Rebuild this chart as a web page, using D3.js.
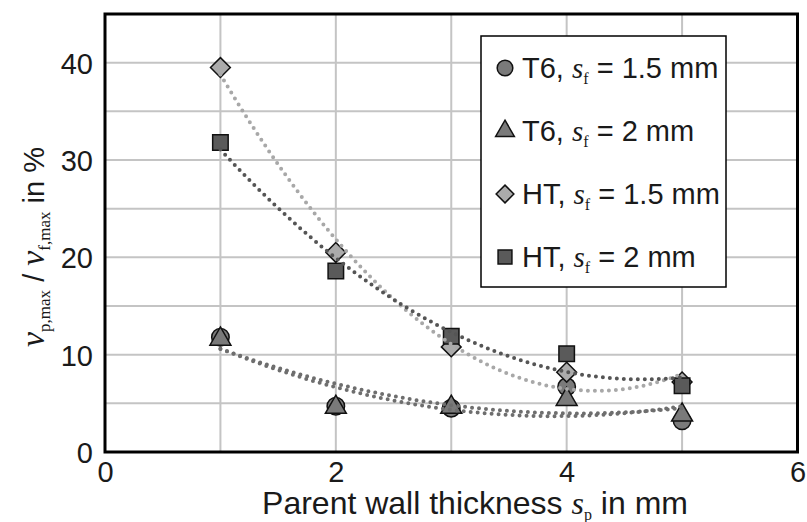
<!DOCTYPE html>
<html>
<head>
<meta charset="utf-8">
<script src="https://cdn.jsdelivr.net/npm/d3@7"></script>
<style>
  body { margin: 0; background: #fff; }
  text { font-family: "Liberation Sans", Arial, sans-serif; fill: #1a1a1a; }
  .serif { font-family: "Liberation Serif", "Times New Roman", serif; }
</style>
</head>
<body>
<svg id="root" width="807" height="522"></svg>
<script>
// data
const thickness = [1, 2, 3, 4, 5];
const t6_15 = [11.8, 4.7, 4.5, 6.7, 3.2];
const t6_2 = [11.6, 4.6, 4.6, 5.4, 3.8];
const ht_15 = [39.5, 20.5, 10.8, 8.2, 7.2];
const ht_2 = [31.8, 18.6, 11.9, 10.1, 6.8];
const xTicks = [0, 2, 4, 6];
const yTicks = [0, 10, 20, 30, 40];

const margin = { top: 14, right: 10, bottom: 70, left: 105 };
const width = 797.5 - margin.left;
const height = 452 - margin.top;

const x = d3.scaleLinear().domain([0, 6]).range([0, width]);
const y = d3.scaleLinear().domain([0, 45]).range([height, 0]);

const svg = d3.select('#root');
const g = svg.append('g').attr('transform', `translate(${margin.left},${margin.top})`);

// grid
g.append('g').selectAll('line').data(d3.range(1, 6)).enter().append('line')
    .attr('x1', d => x(d)).attr('x2', d => x(d))
    .attr('y1', 0).attr('y2', height)
    .attr('stroke', '#c4c4c4').attr('stroke-width', 2);
g.append('g').selectAll('line').data(d3.range(5, 45, 5)).enter().append('line')
    .attr('y1', d => y(d)).attr('y2', d => y(d))
    .attr('x1', 0).attr('x2', width)
    .attr('stroke', '#c4c4c4').attr('stroke-width', 2);

// axes (labels only, frame drawn separately)
const axisX = d3.axisBottom(x).tickValues(xTicks).tickFormat(d3.format('d')).tickSize(0).tickPadding(9);
const axisY = d3.axisLeft(y).tickValues(yTicks).tickFormat(d3.format('d')).tickSize(0).tickPadding(12);
g.append('g').attr('transform', `translate(0,${height})`).call(axisX)
    .call(a => a.select('.domain').remove())
    .selectAll('text').style('font-size', '29px').style('font-family', '"Liberation Sans", Arial, sans-serif').attr('fill', '#1a1a1a');
g.append('g').call(axisY)
    .call(a => a.select('.domain').remove())
    .selectAll('text').style('font-size', '29px').style('font-family', '"Liberation Sans", Arial, sans-serif').attr('fill', '#1a1a1a')
    .attr('dy', '0.36em');

// marker symbols
const series = [
    { name: 'T6', sf: '1.5', values: t6_15, shape: d3.symbolCircle, size: 240, fill: '#7a7a7a', line: '#6e6e6e' },
    { name: 'T6', sf: '2', values: t6_2, shape: d3.symbolTriangle, size: 190, fill: '#7a7a7a', line: '#6e6e6e' },
    { name: 'HT', sf: '1.5', values: ht_15, shape: d3.symbolDiamond2, size: 250, fill: '#ababab', line: '#a8a8a8' },
    { name: 'HT', sf: '2', values: ht_2, shape: d3.symbolSquare, size: 240, fill: '#5a5a5a', line: '#555' }
];

// quadratic least-squares trend, like the spreadsheet trendlines
function quadFit(xs, ys) {
    const n = xs.length;
    let s = [0, 0, 0, 0, 0], t = [0, 0, 0];
    for (let i = 0; i < n; i++) {
        for (let k = 0; k < 5; k++) s[k] += Math.pow(xs[i], k);
        for (let k = 0; k < 3; k++) t[k] += ys[i] * Math.pow(xs[i], k);
    }
    const A = [[s[0], s[1], s[2], t[0]], [s[1], s[2], s[3], t[1]], [s[2], s[3], s[4], t[2]]];
    for (let i = 0; i < 3; i++) {
        for (let j = i + 1; j < 3; j++) {
            const f = A[j][i] / A[i][i];
            for (let k = i; k < 4; k++) A[j][k] -= f * A[i][k];
        }
    }
    const c = [0, 0, 0];
    for (let i = 2; i >= 0; i--) {
        let v = A[i][3];
        for (let k = i + 1; k < 3; k++) v -= A[i][k] * c[k];
        c[i] = v / A[i][i];
    }
    return xv => c[0] + c[1] * xv + c[2] * xv * xv;
}

series.forEach(s => {
    g.append('g').selectAll('path').data(s.values).enter().append('path')
        .attr('d', d3.symbol().type(s.shape).size(s.size))
        .attr('transform', (d, i) => `translate(${x(thickness[i])},${y(d)})`)
        .attr('fill', s.fill).attr('stroke', '#111').attr('stroke-width', 1.5);
});

const line = d3.line().x(d => x(d[0])).y(d => y(d[1])).curve(d3.curveBasis);
series.forEach(s => {
    const f = quadFit(thickness, s.values);
    const pts = d3.range(1, 5.001, 0.05).map(v => [v, f(v)]);
    g.append('path').datum(pts).attr('d', line)
        .attr('fill', 'none').attr('stroke', s.line).attr('stroke-width', 4)
        .attr('stroke-linecap', 'round').attr('stroke-dasharray', '0,7');
});

// frame
g.append('rect').attr('x', 0).attr('y', 0).attr('width', width).attr('height', height)
    .attr('fill', 'none').attr('stroke', '#000').attr('stroke-width', 3);

// legend
const lg = svg.append('g').attr('transform', 'translate(481,36)');
lg.append('rect').attr('width', 245).attr('height', 251)
    .attr('fill', '#fff').attr('stroke', '#000').attr('stroke-width', 1.5);
series.forEach((s, i) => {
    const row = lg.append('g').attr('transform', `translate(24,${32 + i * 63})`);
    row.append('path').attr('d', d3.symbol().type(s.shape).size(s.size * 0.8))
        .attr('fill', s.fill).attr('stroke', '#111').attr('stroke-width', 1.5);
    const t = row.append('text').attr('x', 17).attr('dy', '0.36em').style('font-size', '29px');
    t.append('tspan').text(s.name + ', ');
    t.append('tspan').attr('class', 'serif').style('font-style', 'italic').text('s');
    t.append('tspan').attr('class', 'serif').style('font-size', '16px').attr('dy', 6).text('f');
    t.append('tspan').attr('dy', -6).text(' = ' + s.sf + ' mm');
});

// axis titles
const xt = svg.append('text').attr('x', 475).attr('y', 514).attr('text-anchor', 'middle').style('font-size', '32px');
xt.append('tspan').text('Parent wall thickness ');
xt.append('tspan').attr('class', 'serif').style('font-style', 'italic').text('s');
xt.append('tspan').attr('class', 'serif').style('font-size', '16px').attr('dy', 6).text('p');
xt.append('tspan').attr('dy', -6).text(' in mm');

const yt = svg.append('text').attr('transform', 'translate(44,247) rotate(-90)')
    .attr('text-anchor', 'middle').style('font-size', '29px');
yt.append('tspan').attr('class', 'serif').style('font-style', 'italic').style('font-size', '34px').text('v');
yt.append('tspan').attr('class', 'serif').style('font-size', '17px').attr('dy', 6).text('p,max');
yt.append('tspan').attr('dy', -6).text(' / ');
yt.append('tspan').attr('class', 'serif').style('font-style', 'italic').style('font-size', '34px').text('v');
yt.append('tspan').attr('class', 'serif').style('font-size', '17px').attr('dy', 6).text('f,max');
yt.append('tspan').attr('dy', -6).text(' in %');
</script>
</body>
</html>
